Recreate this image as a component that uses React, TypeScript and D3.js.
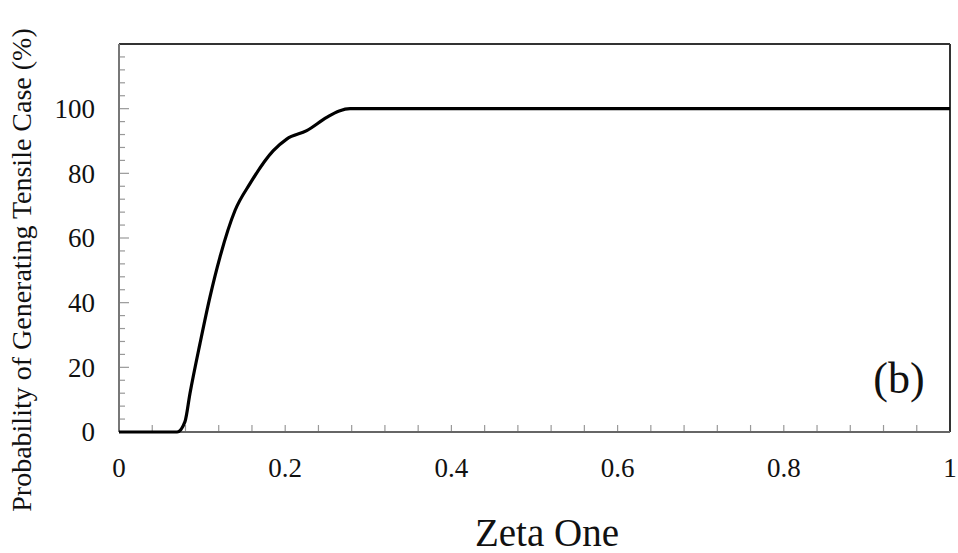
import React from "react";
import * as d3 from "d3";

const zeta = [0, 0.05, 0.07, 0.0794, 0.0854, 0.0975, 0.1095, 0.1215, 0.1396, 0.1576, 0.1857, 0.2018, 0.2259, 0.25, 0.265, 0.278, 0.3, 0.5, 0.75, 1];
const probability = [0, 0, 0, 3.2, 11.9, 27.4, 41.8, 54.1, 68.5, 76.8, 87, 90.6, 93.2, 97.3, 99.3, 100, 100, 100, 100, 100];
const xTicks = [0, 0.2, 0.4, 0.6, 0.8, 1];
const yTicks = [0, 20, 40, 60, 80, 100];
const xTitle = "Zeta One";
const yTitle = "Probability of Generating Tensile Case (%)";
const panelLabel = "(b)";

const W = 958, H = 553;
const L = 119, R = 950, T = 44, B = 432;
const FONT = "'Liberation Serif', 'Times New Roman', serif";

export default function App() {
  const x = d3.scaleLinear().domain([0, 1]).range([L, R]);
  const y = d3.scaleLinear().domain([0, 120]).range([B, T]);
  const line = d3.line<number>().x((_, i) => x(zeta[i])).y((d) => y(d)).curve(d3.curveMonotoneX);
  const xMinor = d3.range(0, 1.0001, 0.04);
  const yMinor = d3.range(0, 120.001, 4);
  return (
    <svg width={W} height={H} style={{ position: "absolute", left: 0, top: 0, background: "#fff" }} fontFamily={FONT}>
      <rect x={0} y={0} width={W} height={H} fill="#fff" />
      {yMinor.map((v) => (
        <line key={"ym" + v} x1={L} x2={L + (v % 20 === 0 ? 10 : 6)} y1={y(v)} y2={y(v)} stroke="#999" strokeWidth={1.2} />
      ))}
      {xMinor.map((v) => (
        <line key={"xm" + v} x1={x(v)} x2={x(v)} y1={B} y2={B - 7} stroke="#999" strokeWidth={1.2} />
      ))}
      <line x1={L} x2={R} y1={T} y2={T} stroke="#333" strokeWidth={2} />
      <line x1={R} x2={R} y1={T} y2={B} stroke="#333" strokeWidth={2} />
      <line x1={L} x2={L} y1={T} y2={B} stroke="#777" strokeWidth={2} />
      <line x1={L} x2={R} y1={B} y2={B} stroke="#666" strokeWidth={2} />
      <path d={line(probability) || ""} fill="none" stroke="#000" strokeWidth={3.2} strokeLinejoin="round" />
      {yTicks.map((v) => (
        <text key={"yt" + v} x={L - 24} y={y(v)} dy="0.35em" textAnchor="end" fontSize={27} fill="#111">{v}</text>
      ))}
      {xTicks.map((v) => (
        <text key={"xt" + v} x={x(v)} y={B + 45} textAnchor="middle" fontSize={27} fill="#111">{v}</text>
      ))}
      <text x={547} y={546} textAnchor="middle" fontSize={39} fill="#111">{xTitle}</text>
      <text transform={`translate(31,${270}) rotate(-90)`} textAnchor="middle" fontSize={28} fill="#111">{yTitle}</text>
      <text x={899} y={393} textAnchor="middle" fontSize={44} fill="#111">{panelLabel}</text>
    </svg>
  );
}
